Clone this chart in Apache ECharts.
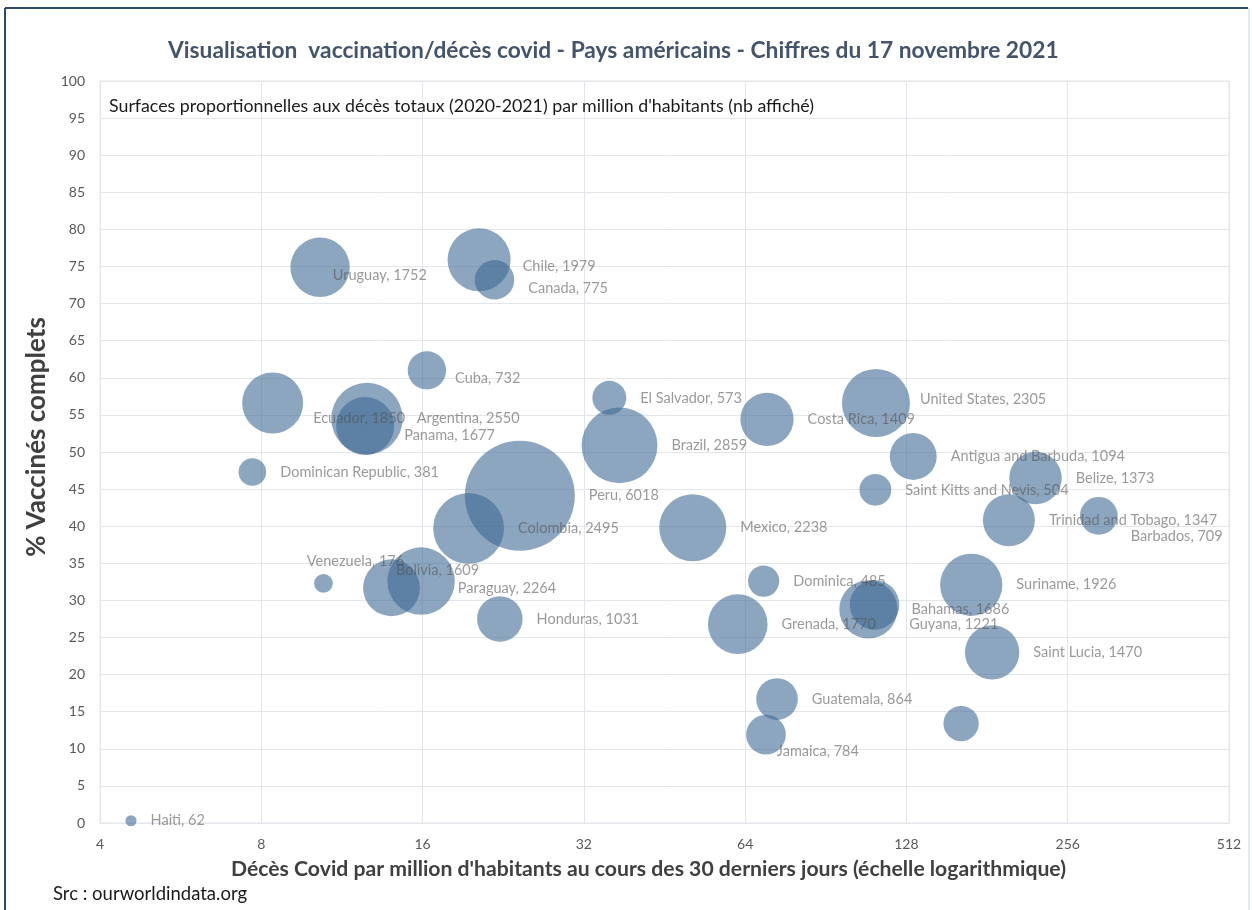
<!DOCTYPE html>
<html>
<head>
<meta charset="utf-8">
<title>Vaccination / décès covid - Pays américains</title>
<script src="https://cdn.jsdelivr.net/npm/echarts@6/dist/echarts.min.js"></script>
<style>
  html, body { margin: 0; padding: 0; background: #fff; }
  #chart { width: 1252px; height: 910px; }
</style>
</head>
<body>
<div id="chart"></div>
<script>
// countries, deaths last 30 days per million (x, log), % fully vaccinated (y), total deaths per million (bubble area)
var countries = ['Haiti', 'Dominican Republic', 'Uruguay', 'Ecuador', 'Argentina', 'Panama', 'Cuba', 'Chile', 'Canada',
  'Venezuela', 'Bolivia', 'Paraguay', 'Honduras', 'Colombia', 'Peru', 'El Salvador', 'Brazil', 'Mexico',
  'Costa Rica', 'Dominica', 'Grenada', 'Guatemala', 'Jamaica', 'United States', 'Antigua and Barbuda',
  'Saint Kitts and Nevis', 'Bahamas', 'Guyana', 'Suriname', 'Saint Lucia', 'Trinidad and Tobago', 'Belize',
  'Barbados', ''];
var deaths30 = [4.57, 7.7, 10.3, 8.4, 12.6, 12.5, 16.3, 20.4, 21.8,
  10.45, 14.0, 15.9, 22.3, 19.5, 24.3, 35.7, 37.3, 51.1,
  70.3, 69.3, 62.0, 73.4, 70.0, 112.3, 131.8,
  112.0, 108.7, 111.6, 169.1, 185.0, 198.8, 222.9,
  292.6, 161.9];
var vaccinated = [0.3, 47.3, 74.9, 56.6, 54.5, 53.5, 61.0, 75.9, 73.2,
  32.3, 31.7, 32.6, 27.5, 39.7, 44.1, 57.3, 50.9, 39.8,
  54.4, 32.6, 26.8, 16.7, 11.9, 56.6, 49.4,
  44.9, 28.8, 29.4, 32.1, 23.0, 40.8, 46.5,
  41.4, 13.4];
var totalDeaths = [62, 381, 1752, 1850, 2550, 1677, 732, 1979, 775,
  176, 1609, 2264, 1031, 2495, 6018, 573, 2859, 2238,
  1409, 485, 1770, 864, 784, 2305, 1094,
  504, 1686, 1221, 1926, 1470, 1347, 1373,
  709, 620];
var xTicks = [4, 8, 16, 32, 64, 128, 256, 512];

// labels moved by hand in the original
var labelShift = {
  'Uruguay': [-31, 8],
  'Ecuador': [-4, 15],
  'Panama': [-4, 9],
  'Cuba': [-5, 8],
  'Chile': [-2, 7],
  'Canada': [0, 8],
  'Venezuela': [-40, -22],
  'Bolivia': [-38, -17],
  'Paraguay': [-11, 7],
  'Barbados': [-1, 21],
  'Guyana': [-4, 19],
  'Jamaica': [-23, 17],
  'United States': [-4, -4]
};

var chart = echarts.init(document.getElementById('chart'));

var points = countries.map(function (c, i) {
  var item = { name: c, value: [deaths30[i], vaccinated[i], totalDeaths[i]] };
  if (labelShift[c]) {
    item.label = { offset: labelShift[c] };
  }
  return item;
});

var labelFont = 'Lato';
var gridColor = '#E2E6EA';

var option = {
  backgroundColor: '#ffffff',
  animation: false,
  title: [{
    text: 'Visualisation  vaccination/décès covid - Pays américains - Chiffres du 17 novembre 2021',
    left: 163,
    top: 34,
    textStyle: {
      fontFamily: labelFont,
      fontWeight: 'bold',
      fontSize: 22.75,
      color: '#44546A'
    }
  }, {
    text: "Surfaces proportionnelles aux décès totaux (2020-2021) par million d'habitants (nb affiché)",
    left: 104,
    top: 92,
    textStyle: {
      fontFamily: labelFont,
      fontWeight: 'normal',
      fontSize: 17.8,
      color: '#1a1a1a'
    }
  }, {
    text: 'Src : ourworldindata.org',
    left: 48,
    top: 880,
    textStyle: {
      fontFamily: labelFont,
      fontWeight: 'normal',
      fontSize: 18.5,
      color: '#1a1a1a'
    }
  }],
  grid: {
    left: 100,
    right: 23,
    top: 81,
    bottom: 87,
    show: true,
    borderColor: gridColor,
    borderWidth: 1
  },
  xAxis: {
    type: 'log',
    logBase: 2,
    min: 4,
    max: 512,
    splitNumber: 7,
    name: "Décès Covid par million d'habitants au cours des 30 derniers jours (échelle logarithmique)",
    nameLocation: 'middle',
    nameGap: 36,
    nameTextStyle: {
      fontFamily: labelFont,
      fontWeight: 'bold',
      fontSize: 21.2,
      color: '#404040',
      padding: [0, 32, 0, 0]
    },
    axisLine: { show: true, lineStyle: { color: gridColor } },
    axisTick: { show: false },
    axisLabel: {
      fontFamily: labelFont,
      fontSize: 14,
      color: '#595959',
      margin: 14,
      formatter: function (v) {
        var hit = xTicks.filter(function (t) { return Math.abs(t - v) < 0.01; });
        return hit.length ? String(hit[0]) : '';
      }
    },
    splitLine: { show: true, lineStyle: { color: gridColor } }
  },
  yAxis: {
    type: 'value',
    min: 0,
    max: 100,
    interval: 5,
    name: '% Vaccinés complets',
    nameLocation: 'middle',
    nameGap: 41,
    nameTextStyle: {
      fontFamily: labelFont,
      fontWeight: 'bold',
      fontSize: 26,
      color: '#404040',
      padding: [0, 0, 0, 30]
    },
    axisLine: { show: true, lineStyle: { color: gridColor } },
    axisTick: { show: false },
    axisLabel: {
      fontFamily: labelFont,
      fontSize: 14,
      color: '#595959',
      margin: 15
    },
    splitLine: { show: true, lineStyle: { color: gridColor } }
  },
  series: [{
    type: 'scatter',
    data: points,
    symbol: 'circle',
    symbolSize: function (val) {
      return 1.418 * Math.sqrt(val[2]);
    },
    itemStyle: {
      color: '#3B6591',
      opacity: 0.58
    },
    label: {
      show: true,
      position: 'right',
      distance: 14,
      fontFamily: labelFont,
      fontSize: 14.5,
      color: '#4f4f4f',
      formatter: function (p) {
        return p.name ? p.name + ', ' + p.value[2] : '';
      }
    },
    emphasis: { disabled: true }
  }],
  graphic: [
    { type: 'line', shape: { x1: 5, y1: 8, x2: 1248, y2: 8 }, style: { stroke: '#2E4A6B', lineWidth: 2 }, silent: true },
    { type: 'line', shape: { x1: 5, y1: 8, x2: 5, y2: 910 }, style: { stroke: '#2E4A6B', lineWidth: 2 }, silent: true },
    { type: 'line', shape: { x1: 1249, y1: 8, x2: 1249, y2: 910 }, style: { stroke: '#BFD3E6', lineWidth: 1 }, silent: true }
  ]
};

chart.setOption(option);
</script>
</body>
</html>
